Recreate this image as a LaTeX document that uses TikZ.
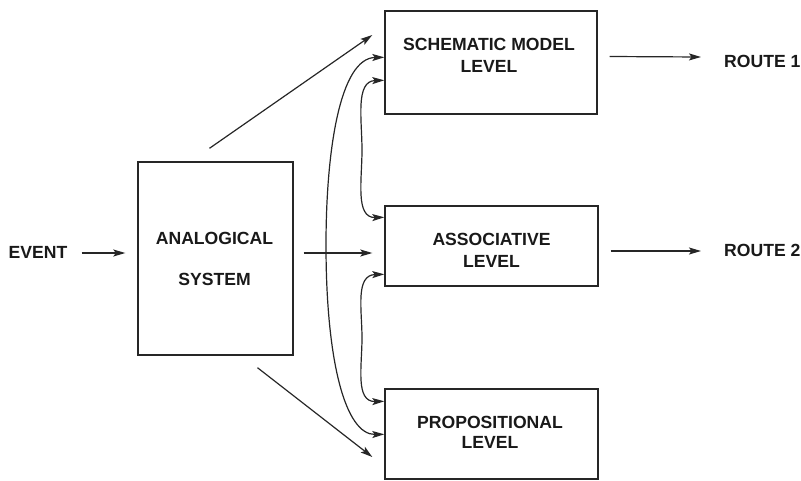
\documentclass[tikz,border=0pt]{standalone}
\usepackage{fontspec}
\setmainfont{Liberation Sans}
\usetikzlibrary{arrows.meta,calc}
\begin{document}
\begin{tikzpicture}[x=1pt,y=-1pt,
  box/.style={draw=black!85, line width=1.4pt, inner sep=0pt},
  lbl/.style={font=\bfseries\fontsize{17.6}{22}\selectfont, align=center, inner sep=0pt, text=black!90},
  tip/.tip={Stealth[length=12pt,width=7pt,inset=2.5pt]},
  arr/.style={draw=black!85, line width=1.2pt, -tip},
  dbl/.style={draw=black!85, line width=1.2pt, tip-tip}]
\useasboundingbox (0,0) rectangle (801,480);

% boxes
\node[box, minimum width=155pt, minimum height=193pt] (analog) at (215.5,258.5) {};
\node[box, minimum width=212pt, minimum height=103pt] (schem) at (491,62.5) {};
\node[box, minimum width=213pt, minimum height=80pt] (assoc) at (491.5,246) {};
\node[box, minimum width=213pt, minimum height=90pt] (prop) at (491.5,434) {};

% box texts
\node[lbl, font=\bfseries\fontsize{17.6}{41}\selectfont] (analogtxt) at (214.5,258.5) {ANALOGICAL\\SYSTEM};
\node[lbl] (schemtxt) at (489,55) {SCHEMATIC MODEL\\LEVEL};
\node[lbl] (assoctxt) at (491.5,250) {ASSOCIATIVE\\LEVEL};
\node[lbl, font=\bfseries\fontsize{17.6}{20}\selectfont] (proptxt) at (490,432.5) {PROPOSITIONAL\\LEVEL};

% outside labels
\node[lbl] (event) at (38,252) {EVENT};
\node[lbl, anchor=west] (route1) at (724,61) {ROUTE 1};
\node[lbl, anchor=west] (route2) at (724,250) {ROUTE 2};

% input and outputs
\draw[arr] (event.east) ++(14,1) -- ($(analog.west)+(-12,-5.5)$);
\draw[arr] ($(schem.east)+(12,-6)$) -- ($(route1.west)+(-23,-4)$);
\draw[arr] ($(assoc.east)+(12,5)$) -- ($(route2.west)+(-23,1)$);

% analogical system feeding the three levels
\draw[arr] ($(analog.north)+(-6,-13)$) -- ($(schem.west)+(-12,-27.5)$);
\draw[arr] ($(analog.east)+(10,-5.5)$) -- ($(assoc.west)+(-12,7)$);
\draw[arr] ($(analog.south)+(42,12)$) -- ($(prop.west)+(-12,23)$);

% links between the levels
\draw[dbl] ($(schem.north west)+(0,47)$) .. controls (340,58) and (326,150) .. (326,245)
  .. controls (326,360) and (345,435) .. ($(prop.north west)+(0,46)$);
\draw[dbl] ($(schem.north west)+(0,70)$) .. controls (355,81) and (362,120) .. (362,150)
  .. controls (362,180) and (355,218) .. ($(assoc.north west)+(0,12)$);
\draw[dbl] ($(assoc.north west)+(0,69)$) .. controls (355,275) and (362,310) .. (362,338)
  .. controls (362,366) and (355,402) .. ($(prop.north west)+(0,13)$);
\end{tikzpicture}
\end{document}
